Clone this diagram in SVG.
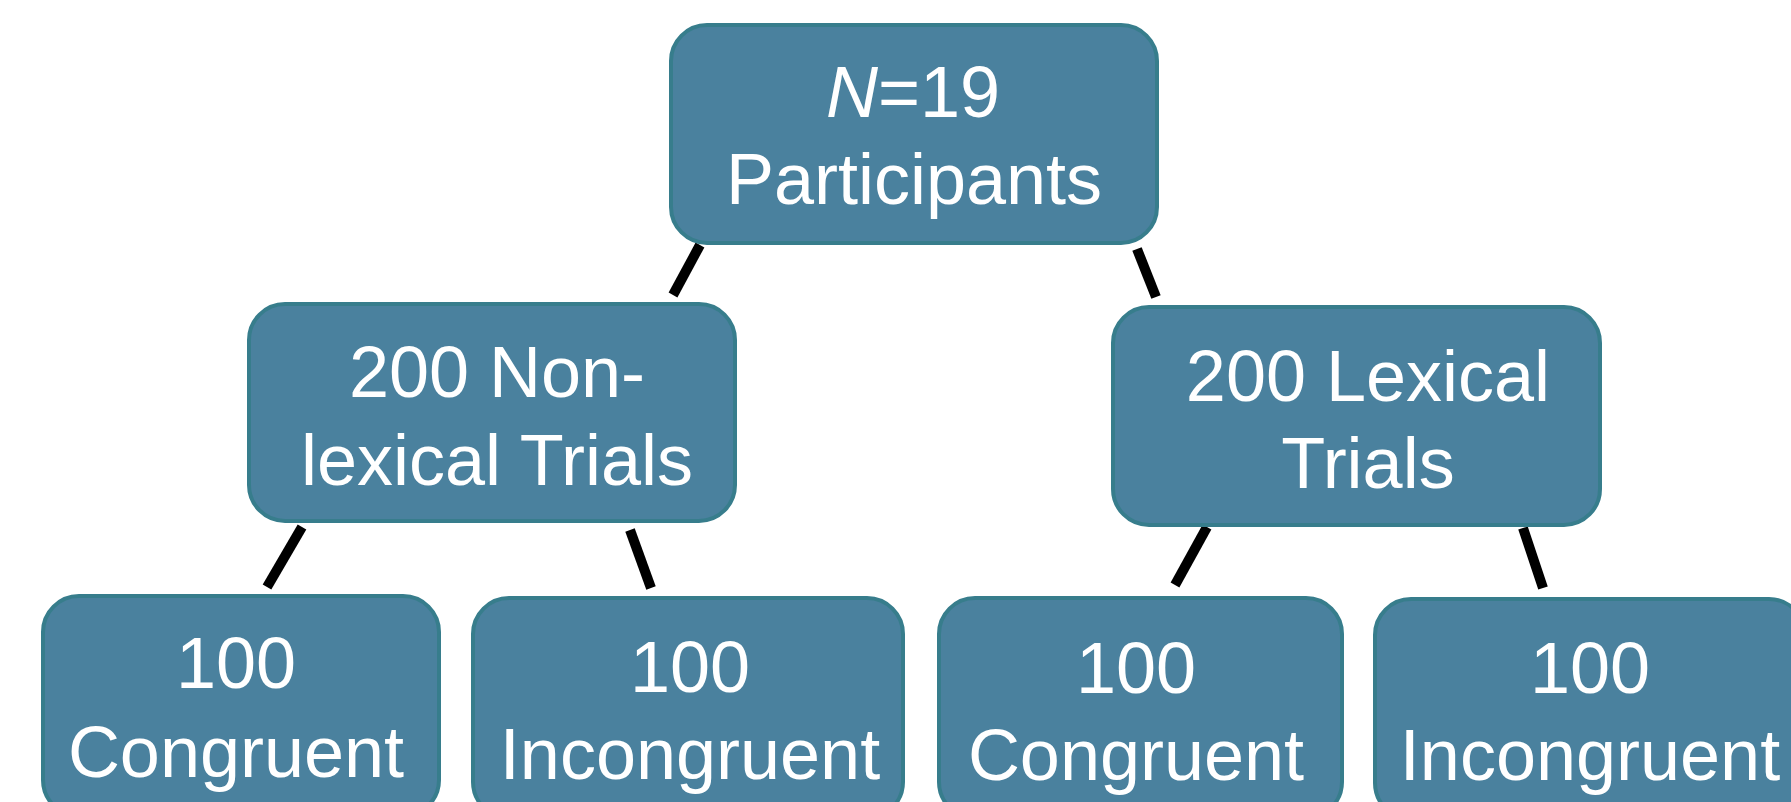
<svg xmlns="http://www.w3.org/2000/svg" width="1791" height="802" viewBox="0 0 1791 802">
<style>
.box{fill:#4A819E;stroke:#377D8C;stroke-width:4}
.t{font-family:"Liberation Sans",Arial,sans-serif;font-size:72px;fill:#FFFFFF;text-anchor:middle}
.c{stroke:#000000;stroke-width:10;fill:none;stroke-linecap:butt}
</style>
<rect width="1791" height="802" fill="#FFFFFF"/>
<g id="connectors">
<line class="c" x1="700" y1="245" x2="673" y2="295"/>
<line class="c" x1="1137" y1="249" x2="1156" y2="297"/>
<line class="c" x1="302" y1="527" x2="267" y2="587"/>
<line class="c" x1="630" y1="530" x2="651" y2="588"/>
<line class="c" x1="1207" y1="527" x2="1175" y2="585"/>
<line class="c" x1="1523" y1="528" x2="1543" y2="588"/>
</g>
<g id="root">
<rect class="box" x="671" y="25" width="486" height="218" rx="36"/>
<text class="t" x="913" y="117"><tspan font-style="italic">N</tspan>=19</text>
<text class="t" x="914" y="204">Participants</text>
</g>
<g id="nonlexical">
<rect class="box" x="249" y="304" width="486" height="217" rx="36"/>
<text class="t" x="497" y="397">200 Non-</text>
<text class="t" x="497" y="485">lexical Trials</text>
</g>
<g id="lexical">
<rect class="box" x="1113" y="307" width="487" height="218" rx="36"/>
<text class="t" x="1368" y="401">200 Lexical</text>
<text class="t" x="1368" y="488">Trials</text>
</g>
<g id="nl-congruent">
<rect class="box" x="43" y="596" width="396" height="220" rx="36"/>
<text class="t" x="236" y="688">100</text>
<text class="t" x="236" y="777">Congruent</text>
</g>
<g id="nl-incongruent">
<rect class="box" x="473" y="598" width="430" height="220" rx="36"/>
<text class="t" x="690" y="692">100</text>
<text class="t" x="690" y="779">Incongruent</text>
</g>
<g id="l-congruent">
<rect class="box" x="939" y="598" width="403" height="220" rx="36"/>
<text class="t" x="1136" y="693">100</text>
<text class="t" x="1136" y="780">Congruent</text>
</g>
<g id="l-incongruent">
<rect class="box" x="1375" y="599" width="430" height="220" rx="36"/>
<text class="t" x="1590" y="693">100</text>
<text class="t" x="1590" y="780">Incongruent</text>
</g>
</svg>
